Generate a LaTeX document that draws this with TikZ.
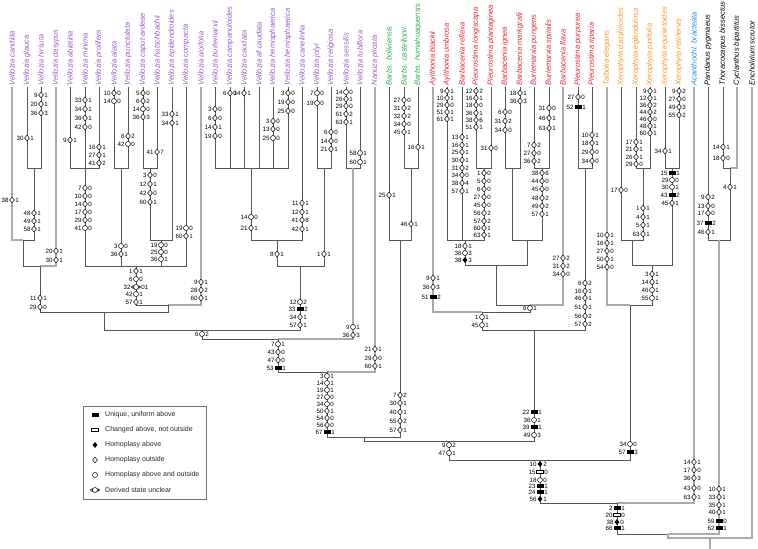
\documentclass[tikz,border=0pt]{standalone}
\usepackage{fontspec}
\setmainfont{Liberation Sans}
\usepackage{xcolor}
\usepackage{tikz}
\usetikzlibrary{shapes.geometric}

\definecolor{velcol}{RGB}{150,90,190}
\definecolor{barcol}{RGB}{50,165,75}
\definecolor{aylcol}{RGB}{228,35,55}
\definecolor{xercol}{RGB}{242,152,40}
\definecolor{acacol}{RGB}{35,140,210}
\definecolor{brcol}{RGB}{85,85,85}
\definecolor{gbcol}{RGB}{170,170,170}

\tikzset{
  br/.style={draw=brcol, line width=0.8pt},
  gbr/.style={draw=gbcol, line width=1.4pt},
  taxon/.style={rotate=90, anchor=west, inner sep=1.5pt, font=\fontsize{7.5}{8}\selectfont\itshape},
  chn/.style={inner sep=0.5pt, font=\fontsize{6.2}{6.5}\selectfont},
  cuq/.style={rectangle, fill=black, inner sep=0pt, minimum width=7pt, minimum height=3.8pt},
  cch/.style={rectangle, draw=black, fill=white, line width=0.5pt, inner sep=0pt, minimum width=7pt, minimum height=3.4pt},
  cha/.style={diamond, fill=black, inner sep=0pt, minimum width=5pt, minimum height=6pt},
  cho/.style={diamond, draw=black, fill=white, line width=0.5pt, inner sep=0pt, minimum width=5pt, minimum height=6pt},
  chb/.style={circle, draw=black, fill=white, line width=0.5pt, inner sep=0pt, minimum size=5pt},
  legbox/.style={draw=black!55, line width=0.6pt, minimum width=123pt, minimum height=93pt, inner sep=0pt},
  legtxt/.style={anchor=west, inner sep=0pt, text=black!85, font=\fontsize{7}{8}\selectfont},
}

% character change: x, y, character, symbol, state
\newcommand{\apom}[5]{%
  \node[#4] (a#1-#2) at (#1,#2) {};
  \node[chn, anchor=east] (a#1-#2l) at (a#1-#2.west) {#3};
  \node[chn, anchor=west] (a#1-#2r) at (a#1-#2.east) {#5};}
% derived state unclear
\newcommand{\apou}[4]{%
  \node[chb] (a#1-#2) at (#1,#2) {};
  \draw[line width=0.5pt, fill=white] ([yshift=1.4pt]a#1-#2.west) -- ++(-2,1.4) -- ++(2,1.4) -- cycle;
  \draw[line width=0.5pt, fill=white] ([yshift=1.4pt]a#1-#2.east) -- ++(2,1.4) -- ++(-2,1.4) -- cycle;
  \node[chn, anchor=east] (a#1-#2l) at ([xshift=-2pt]a#1-#2.west) {#3};
  \node[chn, anchor=west] (a#1-#2r) at ([xshift=2pt]a#1-#2.east) {#4};}

\begin{document}
\begin{tikzpicture}[x=1pt, y=-1pt]
    \useasboundingbox (0,0) rectangle (758,549);

    % Taxa
    \node[taxon, text=velcol] (vcand) at (12,87) {Vellozia candida};
    \node[taxon, text=velcol] (vglau) at (27,87) {Vellozia glauca};
    \node[taxon, text=velcol] (vhirs) at (41,87) {Vellozia hirsuta};
    \node[taxon, text=velcol] (vdasy) at (56,87) {Vellozia dasypus};
    \node[taxon, text=velcol] (vabie) at (70,87) {Vellozia abietina};
    \node[taxon, text=velcol] (vmini) at (85,87) {Vellozia minima};
    \node[taxon, text=velcol] (vprol) at (99,87) {Vellozia prolifera};
    \node[taxon, text=velcol] (valat) at (114,87) {Vellozia alata};
    \node[taxon, text=velcol] (vpunc) at (128,87) {Vellozia punctulata};
    \node[taxon, text=velcol] (vcapu) at (143,87) {Vellozia caput-ardeae};
    \node[taxon, text=velcol] (vhats) at (157,87) {Vellozia hatschbachii};
    \node[taxon, text=velcol] (vepid) at (172,87) {Vellozia epidendroides};
    \node[taxon, text=velcol] (vcomp) at (186,87) {Vellozia compacta};
    \node[taxon, text=velcol] (valoi) at (201,87) {Vellozia aloifolia};
    \node[taxon, text=velcol] (vburl) at (215,87) {Vellozia burlemarxii};
    \node[taxon, text=velcol] (vcamp) at (230,87) {Vellozia campanuloides};
    \node[taxon, text=velcol] (vcaud) at (244,87) {Vellozia caudata};
    \node[taxon, text=velcol] (vafca) at (259,87) {Vellozia af caudata};
    \node[taxon, text=velcol] (vhema) at (273,87) {Vellozia hemisphaerica};
    \node[taxon, text=velcol] (vhemb) at (288,87) {Vellozia hemisphaerica};
    \node[taxon, text=velcol] (vcane) at (302,87) {Vellozia canelinha};
    \node[taxon, text=velcol] (vjoly) at (317,87) {Vellozia jolyi};
    \node[taxon, text=velcol] (vreli) at (331,87) {Vellozia religiosa};
    \node[taxon, text=velcol] (vsess) at (346,87) {Vellozia sessilis};
    \node[taxon, text=velcol] (vtubi) at (360,87) {Vellozia tubiflora};
    \node[taxon, text=velcol] (nplic) at (375,87) {Nanuza plicata};
    \node[taxon, text=barcol] (bboli) at (389,87) {Barbs. boliviensis};
    \node[taxon, text=barcol] (bcast) at (404,87) {Barbs. castellonii};
    \node[taxon, text=barcol] (bhuma) at (418,87) {Barbs. humahuaquensis};
    \node[taxon, text=aylcol] (ablac) at (433,87) {Aylthonia blackii};
    \node[taxon, text=aylcol] (aumbr) at (447,87) {Aylthonia umbrosa};
    \node[taxon, text=aylcol] (brefl) at (462,87) {Barbacenia reflexa};
    \node[taxon, text=aylcol] (plong) at (476,87) {Pleurostima longiscapa};
    \node[taxon, text=aylcol] (pplan) at (491,87) {Pleurostima plantaginea};
    \node[taxon, text=aylcol] (bigne) at (505,87) {Barbacenia ignea};
    \node[taxon, text=aylcol] (bmark) at (520,87) {Barbacenia markgrafii};
    \node[taxon, text=aylcol] (bpung) at (534,87) {Burlemarxia pungens};
    \node[taxon, text=aylcol] (bspir) at (549,87) {Burlemarxia spiralis};
    \node[taxon, text=aylcol] (bflav) at (563,87) {Barbacenia flava};
    \node[taxon, text=aylcol] (ppurp) at (578,87) {Pleurostima purpurea};
    \node[taxon, text=aylcol] (pripa) at (592,87) {Pleurostima riparia};
    \node[taxon, text=xercol] (teleg) at (607,87) {Talbotia elegans};
    \node[taxon, text=xercol] (xdasy) at (621,87) {Xerophyta dasylirioides};
    \node[taxon, text=xercol] (xegla) at (636,87) {Xerophyta eglandulosa};
    \node[taxon, text=xercol] (xpini) at (650,87) {Xerophyta pinifolia};
    \node[taxon, text=xercol] (xequi) at (665,87) {Xerophyta equisetoides};
    \node[taxon, text=xercol] (xreti) at (679,87) {Xerophyta retinervis};
    \node[taxon, text=acacol] (abrac) at (694,87) {Acanthochl. bracteata};
    \node[taxon] (ppygm) at (708,87) {Pandanus pygmaeus};
    \node[taxon] (tbiss) at (723,87) {Thoracocarpus bissectus};
    \node[taxon] (cbipa) at (737,87) {Cyclanthus bipartitus};
    \node[taxon] (escru) at (752,87) {Encholirium scrutor};

    % Internal nodes
    \coordinate (ngh) at (34,168);
    \coordinate (na1) at (23,240);
    \coordinate (na2) at (40,266);
    \coordinate (nap) at (85,168);
    \coordinate (nal) at (121,168);
    \coordinate (nch) at (150,168);
    \coordinate (nce) at (161,240);
    \coordinate (nc1) at (136,266);
    \coordinate (nc2) at (168,305);
    \coordinate (nb) at (104,312);
    \coordinate (nbu) at (251,168);
    \coordinate (nbc) at (277,240);
    \coordinate (njr) at (324,168);
    \coordinate (nbj) at (300,266);
    \coordinate (nd) at (202,330);
    \coordinate (nst) at (353,168);
    \coordinate (ne) at (278,339);
    \coordinate (nn) at (327,372);
    \coordinate (nbh) at (411,168);
    \coordinate (nbb) at (400,240);
    \coordinate (nf) at (364,437);
    \coordinate (nlp) at (484,168);
    \coordinate (nur) at (465,240);
    \coordinate (nim) at (512,168);
    \coordinate (nps) at (542,168);
    \coordinate (nbm) at (527,240);
    \coordinate (nrb) at (496,265);
    \coordinate (nfl) at (530,305);
    \coordinate (nay) at (482,312);
    \coordinate (npr) at (585,168);
    \coordinate (nred) at (534,330);
    \coordinate (ng) at (449,441);
    \coordinate (nep) at (643,168);
    \coordinate (ndx) at (632,240);
    \coordinate (ner) at (672,168);
    \coordinate (nxx) at (652,265);
    \coordinate (ntx) at (630,305);
    \coordinate (nh) at (540,460);
    \coordinate (ni) at (617,503);
    \coordinate (ntc) at (730,168);
    \coordinate (npt) at (719,240);
    \coordinate (nj) at (668,534);
    \coordinate (nroot) at (710,538);
    \coordinate (rbase) at (710,549);

    % Branches
    \draw[gbr] (vcand.west) |- (na1);
    \draw[br] (vglau.west) |- (ngh);
    \draw[br] (vhirs.west) |- (ngh);
    \draw[br] (ngh) |- (na1);
    \draw[br] (na1) |- (na2);
    \draw[gbr] (vdasy.west) |- (na2);
    \draw[br] (na2) |- (nb);
    \draw[br] (vabie.west) |- (nap);
    \draw[br] (vmini.west) |- (nap);
    \draw[br] (vprol.west) |- (nap);
    \draw[br] (nap) |- (nc1);
    \draw[br] (valat.west) |- (nal);
    \draw[br] (vpunc.west) |- (nal);
    \draw[br] (nal) |- (nc1);
    \draw[br] (vcapu.west) |- (nch);
    \draw[br] (vhats.west) |- (nch);
    \draw[br] (nch) |- (nce);
    \draw[br] (vepid.west) |- (nce);
    \draw[br] (nce) |- (nc1);
    \draw[br] (vcomp.west) |- (nc1);
    \draw[br] (nc1) |- (nc2);
    \draw[gbr] (valoi.west) |- (nc2);
    \draw[br] (nc2) |- (nb);
    \draw[br] (nb) |- (nd);
    \draw[br] (vburl.west) |- (nbu);
    \draw[br] (vcamp.west) |- (nbu);
    \draw[br] (vcaud.west) |- (nbu);
    \draw[br] (vafca.west) |- (nbu);
    \draw[br] (vhema.west) |- (nbu);
    \draw[br] (vhemb.west) |- (nbu);
    \draw[br] (nbu) |- (nbc);
    \draw[br] (vcane.west) |- (nbc);
    \draw[br] (nbc) |- (nbj);
    \draw[br] (vjoly.west) |- (njr);
    \draw[br] (vreli.west) |- (njr);
    \draw[br] (njr) |- (nbj);
    \draw[br] (nbj) |- (nd);
    \draw[br] (nd) |- (ne);
    \draw[br] (vsess.west) |- (nst);
    \draw[br] (vtubi.west) |- (nst);
    \draw[gbr] (nst) |- (ne);
    \draw[br] (ne) |- (nn);
    \draw[gbr] (nplic.west) |- (nn);
    \draw[br] (nn) |- (nf);
    \draw[br] (bboli.west) |- (nbb);
    \draw[br] (bcast.west) |- (nbh);
    \draw[br] (bhuma.west) |- (nbh);
    \draw[br] (nbh) |- (nbb);
    \draw[br] (nbb) |- (nf);
    \draw[br] (nf) |- (ng);
    \draw[gbr] (ablac.west) |- (nay);
    \draw[br] (aumbr.west) |- (nur);
    \draw[br] (brefl.west) |- (nur);
    \draw[br] (plong.west) |- (nlp);
    \draw[br] (pplan.west) |- (nlp);
    \draw[br] (nlp) |- (nur);
    \draw[br] (nur) |- (nrb);
    \draw[br] (bigne.west) |- (nim);
    \draw[br] (bmark.west) |- (nim);
    \draw[br] (nim) |- (nbm);
    \draw[br] (bpung.west) |- (nps);
    \draw[br] (bspir.west) |- (nps);
    \draw[br] (nps) |- (nbm);
    \draw[br] (nbm) |- (nrb);
    \draw[br] (nrb) |- (nfl);
    \draw[gbr] (bflav.west) |- (nfl);
    \draw[br] (nfl) |- (nay);
    \draw[br] (nay) |- (nred);
    \draw[br] (ppurp.west) |- (npr);
    \draw[br] (pripa.west) |- (npr);
    \draw[br] (npr) |- (nred);
    \draw[br] (nred) |- (ng);
    \draw[br] (ng) |- (nh);
    \draw[gbr] (teleg.west) |- (ntx);
    \draw[br] (xdasy.west) |- (ndx);
    \draw[br] (xegla.west) |- (nep);
    \draw[br] (xpini.west) |- (nep);
    \draw[br] (nep) |- (ndx);
    \draw[br] (ndx) |- (nxx);
    \draw[br] (xequi.west) |- (ner);
    \draw[br] (xreti.west) |- (ner);
    \draw[br] (ner) |- (nxx);
    \draw[br] (nxx) |- (ntx);
    \draw[br] (ntx) |- (nh);
    \draw[br] (nh) |- (ni);
    \draw[gbr] (abrac.west) |- (ni);
    \draw[br] (ni) |- (nj);
    \draw[br] (ppygm.west) |- (npt);
    \draw[br] (tbiss.west) |- (ntc);
    \draw[gbr] (cbipa.west) |- (ntc);
    \draw[br] (ntc) |- (npt);
    \draw[gbr] (npt) |- (nj);
    \draw[gbr] (nj) |- (nroot);
    \draw[gbr] (escru.west) |- (nroot);
    \draw[gbr] (nroot) -- (rbase);

    % Character changes, Vellozia
    \apom{12}{200}{38}{cho}{1}
    \apom{27}{138}{30}{cho}{1}
    \apom{41}{95}{9}{cho}{1}
    \apom{41}{104}{20}{cho}{1}
    \apom{41}{113}{36}{cho}{3}
    \apom{34}{213}{48}{cho}{1}
    \apom{34}{221}{49}{cho}{1}
    \apom{34}{229}{58}{cho}{1}
    \apom{56}{251}{20}{cho}{1}
    \apom{56}{260}{30}{cho}{1}
    \apom{40}{298}{11}{cho}{1}
    \apom{40}{307}{29}{cho}{0}
    \apom{70}{140}{9}{cho}{1}
    \apom{85}{100}{33}{cho}{1}
    \apom{85}{109}{34}{cho}{1}
    \apom{85}{118}{36}{cho}{1}
    \apom{85}{127}{42}{cho}{0}
    \apom{99}{147}{16}{cho}{1}
    \apom{99}{155}{27}{cho}{1}
    \apom{99}{163}{41}{cho}{2}
    \apom{85}{188}{7}{cho}{0}
    \apom{85}{196}{10}{cho}{0}
    \apom{85}{204}{14}{cho}{0}
    \apom{85}{212}{17}{cho}{0}
    \apom{85}{220}{29}{cho}{0}
    \apom{85}{228}{41}{chb}{0}
    \apom{114}{93}{10}{cho}{0}
    \apom{114}{101}{14}{chb}{0}
    \apom{128}{136}{6}{cho}{2}
    \apom{128}{144}{42}{chb}{0}
    \apom{121}{246}{3}{chb}{0}
    \apom{121}{254}{36}{cho}{1}
    \apom{143}{93}{5}{cho}{0}
    \apom{143}{101}{6}{cho}{2}
    \apom{143}{109}{14}{chb}{0}
    \apom{143}{117}{36}{cho}{3}
    \apom{157}{152}{41}{cho}{7}
    \apom{150}{175}{3}{cho}{0}
    \apom{150}{184}{12}{cho}{1}
    \apom{150}{193}{42}{cho}{0}
    \apom{150}{202}{60}{cho}{1}
    \apom{172}{114}{33}{cho}{1}
    \apom{172}{123}{34}{cho}{1}
    \apom{161}{245}{19}{chb}{0}
    \apom{161}{252}{25}{chb}{0}
    \apom{161}{259}{36}{chb}{1}
    \apom{186}{228}{19}{chb}{0}
    \apom{186}{236}{60}{cho}{1}
    \apom{136}{271}{1}{cho}{1}
    \apom{136}{279}{6}{chb}{0}
    \apou{136}{287}{32}{01}
    \apom{136}{294}{42}{chb}{1}
    \apom{136}{302}{57}{cho}{1}
    \apom{201}{282}{9}{cho}{1}
    \apom{201}{290}{28}{cho}{2}
    \apom{201}{298}{60}{cho}{1}
    \apom{215}{109}{3}{cho}{0}
    \apom{215}{118}{6}{cho}{0}
    \apom{215}{127}{14}{cho}{1}
    \apom{215}{136}{19}{cho}{0}
    \apom{230}{93}{6}{cho}{0}
    \apom{244}{93}{14}{cho}{1}
    \apom{273}{121}{3}{cho}{0}
    \apom{273}{129}{13}{cho}{0}
    \apom{273}{138}{25}{chb}{0}
    \apom{288}{93}{3}{cho}{0}
    \apom{288}{102}{19}{cho}{0}
    \apom{288}{111}{25}{cho}{0}
    \apom{251}{217}{14}{chb}{0}
    \apom{251}{228}{21}{cho}{1}
    \apom{302}{203}{11}{cho}{1}
    \apom{302}{212}{12}{cho}{1}
    \apom{302}{220}{41}{cho}{8}
    \apom{302}{229}{42}{cho}{1}
    \apom{277}{254}{8}{cho}{1}
    \apom{317}{93}{7}{chb}{0}
    \apom{317}{103}{19}{chb}{0}
    \apom{331}{132}{6}{cho}{0}
    \apom{331}{141}{14}{cho}{0}
    \apom{331}{149}{21}{cho}{1}
    \apom{324}{254}{1}{cho}{1}
    \apom{300}{302}{12}{chb}{2}
    \apom{300}{309}{33}{cuq}{2}
    \apom{300}{317}{34}{cho}{1}
    \apom{300}{325}{57}{cho}{1}
    \apom{202}{334}{6}{chb}{2}
    \apom{346}{92}{14}{chb}{0}
    \apom{346}{99}{26}{cho}{1}
    \apom{346}{106}{29}{cho}{0}
    \apom{346}{114}{61}{cho}{2}
    \apom{346}{122}{63}{cho}{1}
    \apom{360}{153}{58}{chb}{1}
    \apom{360}{162}{60}{chb}{1}
    \apom{353}{327}{9}{chb}{1}
    \apom{353}{335}{36}{cho}{3}
    \apom{278}{344}{7}{chb}{1}
    \apom{278}{352}{43}{cho}{0}
    \apom{278}{360}{47}{cho}{0}
    \apom{278}{368}{53}{cuq}{1}
    \apom{375}{349}{21}{cho}{1}
    \apom{375}{358}{29}{cho}{0}
    \apom{375}{366}{60}{cho}{1}
    \apom{327}{376}{3}{chb}{1}
    \apom{327}{383}{14}{chb}{1}
    \apom{327}{390}{19}{chb}{1}
    \apom{327}{397}{27}{chb}{0}
    \apom{327}{404}{34}{chb}{0}
    \apom{327}{411}{50}{cho}{1}
    \apom{327}{418}{54}{cho}{0}
    \apom{327}{425}{56}{cho}{0}
    \apom{327}{432}{67}{cuq}{1}

    % Character changes, Barbaceniopsis
    \apom{389}{195}{25}{cho}{1}
    \apom{404}{100}{27}{cho}{0}
    \apom{404}{108}{31}{cho}{2}
    \apom{404}{116}{32}{cho}{2}
    \apom{404}{124}{34}{cho}{0}
    \apom{404}{132}{45}{cho}{1}
    \apom{418}{147}{16}{cho}{1}
    \apom{411}{224}{46}{cho}{1}
    \apom{400}{395}{7}{cho}{2}
    \apom{400}{403}{30}{cho}{1}
    \apom{400}{412}{40}{cho}{1}
    \apom{400}{421}{55}{cho}{2}
    \apom{400}{430}{57}{cho}{1}

    % Character changes, Barbacenia and allies
    \apom{433}{278}{9}{cho}{1}
    \apom{433}{287}{36}{cho}{3}
    \apom{433}{297}{51}{cuq}{2}
    \apom{447}{91}{9}{cho}{1}
    \apom{447}{98}{10}{cho}{1}
    \apom{447}{105}{29}{cho}{0}
    \apom{447}{112}{51}{cho}{1}
    \apom{447}{119}{61}{cho}{1}
    \apom{462}{137}{13}{cho}{1}
    \apom{462}{145}{16}{cho}{1}
    \apom{462}{152}{25}{cho}{1}
    \apom{462}{160}{30}{cho}{1}
    \apom{462}{168}{31}{cho}{2}
    \apom{462}{175}{34}{cho}{0}
    \apom{462}{183}{38}{cho}{4}
    \apom{462}{191}{57}{cho}{1}
    \apom{476}{91}{12}{cho}{2}
    \apom{476}{98}{16}{cho}{1}
    \apom{476}{105}{18}{cho}{0}
    \apom{476}{113}{36}{cho}{1}
    \apom{476}{120}{38}{cho}{6}
    \apom{476}{127}{51}{cho}{1}
    \apom{491}{148}{31}{cho}{0}
    \apom{484}{173}{1}{cho}{0}
    \apom{484}{181}{5}{cho}{0}
    \apom{484}{189}{6}{cho}{0}
    \apom{484}{197}{27}{cho}{0}
    \apom{484}{205}{45}{cho}{0}
    \apom{484}{213}{56}{cho}{2}
    \apom{484}{221}{57}{cho}{2}
    \apom{484}{228}{60}{cho}{1}
    \apom{484}{235}{63}{cho}{1}
    \apom{465}{246}{18}{cho}{1}
    \apom{465}{253}{36}{chb}{3}
    \apom{465}{260}{38}{cha}{3}
    \apom{505}{112}{6}{cho}{0}
    \apom{505}{121}{31}{cho}{2}
    \apom{505}{130}{34}{cho}{0}
    \apom{520}{93}{18}{cho}{1}
    \apom{520}{101}{36}{cho}{3}
    \apom{534}{145}{7}{cho}{2}
    \apom{534}{153}{27}{cho}{0}
    \apom{534}{161}{36}{cho}{2}
    \apom{549}{108}{31}{cho}{0}
    \apom{549}{118}{46}{cho}{1}
    \apom{549}{128}{63}{cho}{1}
    \apom{542}{173}{38}{cho}{6}
    \apom{542}{181}{44}{cho}{0}
    \apom{542}{189}{45}{cho}{0}
    \apom{542}{198}{48}{cho}{2}
    \apom{542}{206}{49}{cho}{2}
    \apom{542}{214}{57}{cho}{1}
    \apom{563}{258}{27}{cho}{2}
    \apom{563}{266}{31}{cho}{2}
    \apom{563}{274}{34}{cho}{0}
    \apom{530}{308}{6}{chb}{1}
    \apom{482}{317}{1}{chb}{1}
    \apom{482}{325}{45}{chb}{1}
    \apom{578}{97}{27}{cho}{0}
    \apom{578}{107}{52}{cuq}{1}
    \apom{592}{135}{10}{cho}{1}
    \apom{592}{143}{18}{cho}{1}
    \apom{592}{152}{29}{cho}{0}
    \apom{592}{161}{34}{cho}{0}
    \apom{585}{283}{6}{cho}{2}
    \apom{585}{291}{16}{cho}{1}
    \apom{585}{298}{46}{cho}{1}
    \apom{585}{307}{51}{cho}{1}
    \apom{585}{316}{56}{cho}{2}
    \apom{585}{324}{57}{cho}{2}
    \apom{534}{412}{22}{cuq}{1}
    \apom{534}{420}{36}{chb}{1}
    \apom{534}{427}{39}{cuq}{1}
    \apom{534}{435}{49}{chb}{3}
    \apom{449}{445}{9}{chb}{2}
    \apom{449}{453}{47}{chb}{1}

    % Character changes, Talbotia and Xerophyta
    \apom{607}{235}{10}{cho}{1}
    \apom{607}{243}{16}{cho}{1}
    \apom{607}{251}{27}{cho}{0}
    \apom{607}{259}{50}{cho}{1}
    \apom{607}{267}{54}{cho}{0}
    \apom{621}{190}{17}{cho}{0}
    \apom{636}{142}{17}{cho}{1}
    \apom{636}{149}{21}{cho}{1}
    \apom{636}{157}{26}{cho}{1}
    \apom{636}{164}{29}{cho}{0}
    \apom{650}{91}{9}{cho}{1}
    \apom{650}{98}{12}{cho}{1}
    \apom{650}{105}{36}{cho}{2}
    \apom{650}{112}{44}{cho}{2}
    \apom{650}{119}{46}{cho}{0}
    \apom{650}{126}{48}{cho}{1}
    \apom{650}{133}{60}{cho}{1}
    \apom{643}{208}{1}{cho}{1}
    \apom{643}{217}{4}{cho}{1}
    \apom{643}{225}{5}{cho}{1}
    \apom{643}{234}{63}{cho}{1}
    \apom{665}{151}{34}{cho}{1}
    \apom{679}{91}{9}{cho}{2}
    \apom{679}{99}{27}{cho}{0}
    \apom{679}{107}{49}{cho}{3}
    \apom{679}{115}{55}{cho}{2}
    \apom{672}{173}{15}{cuq}{1}
    \apom{672}{180}{29}{chb}{0}
    \apom{672}{187}{30}{chb}{1}
    \apom{672}{195}{43}{cuq}{2}
    \apom{672}{203}{45}{cho}{1}
    \apom{652}{274}{3}{cho}{1}
    \apom{652}{282}{14}{cho}{1}
    \apom{652}{290}{46}{chb}{1}
    \apom{652}{298}{55}{chb}{1}
    \apom{630}{444}{34}{chb}{0}
    \apom{630}{452}{57}{cuq}{3}

    % Character changes, basal nodes and outgroups
    \apom{540}{464}{10}{cha}{2}
    \apom{540}{472}{15}{cch}{0}
    \apom{540}{480}{18}{chb}{0}
    \apom{540}{486}{23}{cuq}{1}
    \apom{540}{492}{24}{cuq}{1}
    \apom{540}{499}{56}{cha}{1}
    \apom{694}{462}{14}{cho}{1}
    \apom{694}{470}{17}{cho}{0}
    \apom{694}{478}{36}{cho}{3}
    \apom{694}{488}{43}{cho}{0}
    \apom{694}{497}{63}{cho}{1}
    \apom{617}{508}{2}{cuq}{1}
    \apom{617}{515}{20}{cch}{0}
    \apom{617}{522}{38}{cha}{0}
    \apom{617}{528}{66}{cuq}{1}
    \apom{708}{197}{9}{cho}{2}
    \apom{708}{206}{13}{cho}{0}
    \apom{708}{213}{17}{cho}{0}
    \apom{708}{223}{37}{cuq}{2}
    \apom{708}{232}{46}{cho}{1}
    \apom{723}{147}{14}{cho}{1}
    \apom{723}{158}{18}{cho}{0}
    \apom{730}{187}{4}{cho}{1}
    \apom{719}{489}{10}{cho}{1}
    \apom{719}{497}{33}{cho}{1}
    \apom{719}{505}{35}{cho}{1}
    \apom{719}{512}{40}{cho}{1}
    \apom{719}{521}{59}{cuq}{0}
    \apom{719}{528}{62}{cuq}{1}

    % Legend
    \node[legbox] (legend) at (144.5,452.5) {};
    \node[cuq] (lguq) at (95,415) {};
    \node[legtxt] (ltuq) at (105,415) {Unique, uniform above};
    \node[cch] (lgch) at (95,430) {};
    \node[legtxt] (ltch) at (105,430) {Changed above, not outside};
    \node[cha] (lgha) at (95,445) {};
    \node[legtxt] (ltha) at (105,445) {Homoplasy above};
    \node[cho] (lgho) at (95,460) {};
    \node[legtxt] (ltho) at (105,460) {Homoplasy outside};
    \node[chb] (lghb) at (95,475) {};
    \node[legtxt] (lthb) at (105,475) {Homoplasy above and outside};
    \node[chb] (lguc) at (95,490) {};
    \draw[line width=0.5pt, fill=white] ([yshift=1.4pt]lguc.west) -- ++(-2,1.4) -- ++(2,1.4) -- cycle;
    \draw[line width=0.5pt, fill=white] ([yshift=1.4pt]lguc.east) -- ++(2,1.4) -- ++(-2,1.4) -- cycle;
    \node[legtxt] (ltuc) at (105,490) {Derived state unclear};
\end{tikzpicture}
\end{document}
